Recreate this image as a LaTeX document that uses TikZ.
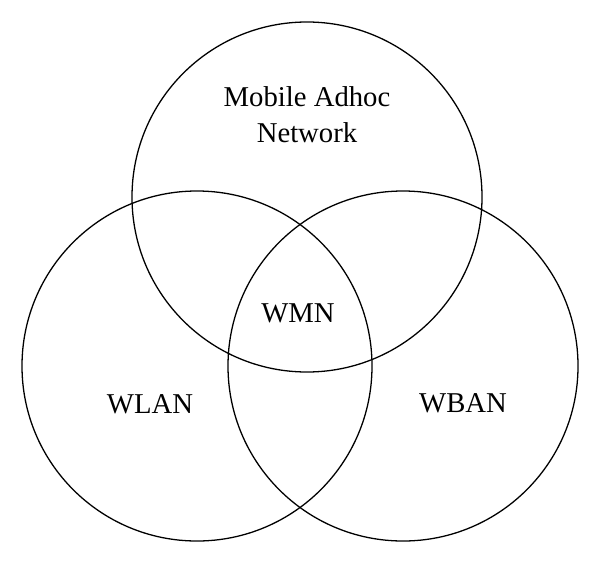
\documentclass[tikz,border=0pt]{standalone}
\usepackage{fontspec}
\setmainfont{Liberation Serif}
\usepackage{tikz}
\usetikzlibrary{positioning}

\begin{document}
\begin{tikzpicture}[
    x=0.03cm, y=-0.03cm,
    venn/.style={circle,draw,line width=1.1pt,minimum size=10.5cm,inner sep=0pt},
    label text/.style={font=\fontsize{24.5}{30.6}\selectfont,align=center,inner sep=0pt}
]
    \useasboundingbox (0,0) rectangle (600,562);

    % the three circles
    \node[venn] (manet) at (307,197) {};
    \node[venn] (wlan) at (197,366) {};
    \node[venn] (wban) at (403,366) {};

    % labels
    \node[label text] (manetlbl) at (307,115) {Mobile Adhoc\\Network};
    \node[label text] (wmnlbl) at (298,313) {WMN};
    \node[label text] (wlanlbl) at (150,404) {WLAN};
    \node[label text] (wbanlbl) at (463,403) {WBAN};
\end{tikzpicture}
\end{document}
